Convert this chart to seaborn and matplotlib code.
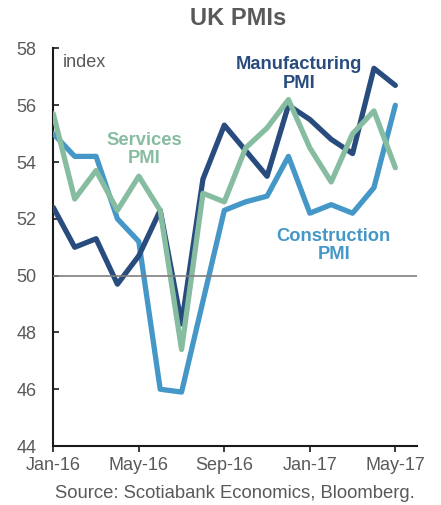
import matplotlib
matplotlib.use("Agg")
import matplotlib.pyplot as plt
import seaborn as sns
import pandas as pd

months = ["Jan-16", "Feb-16", "Mar-16", "Apr-16", "May-16", "Jun-16", "Jul-16", "Aug-16",
          "Sep-16", "Oct-16", "Nov-16", "Dec-16", "Jan-17", "Feb-17", "Mar-17", "Apr-17", "May-17"]
manufacturing = [52.4, 51.0, 51.3, 49.7, 50.7, 52.3, 48.3, 53.4, 55.3, 54.4, 53.5, 56.0,
                 55.5, 54.8, 54.3, 57.3, 56.7]
services = [55.7, 52.7, 53.7, 52.3, 53.5, 52.3, 47.4, 52.9, 52.6, 54.5, 55.2, 56.2,
            54.5, 53.3, 55.0, 55.8, 53.8]
construction = [55.0, 54.2, 54.2, 52.0, 51.2, 46.0, 45.9, 49.1, 52.3, 52.6, 52.8, 54.2,
                52.2, 52.5, 52.2, 53.1, 56.0]
tick_labels = ["Jan-16", "May-16", "Sep-16", "Jan-17", "May-17"]

series_names = ["Manufacturing", "Services", "Construction"]
colors = {"Manufacturing": "#284C7E", "Services": "#86BC9F", "Construction": "#4497C6"}

df = pd.DataFrame({
    "t": list(range(len(months))) * 3,
    "value": manufacturing + services + construction,
    "series": [s for s in series_names for _ in months],
})

sns.set_style("white")
plt.rcParams["font.family"] = ["Liberation Sans", "DejaVu Sans"]

fig = plt.figure(figsize=(4.41, 5.05), dpi=100)
ax = fig.add_axes([0.1209, 0.1168, 0.9449 - 0.1209, 0.904 - 0.1168])

sns.lineplot(data=df, x="t", y="value", hue="series",
             hue_order=["Construction", "Manufacturing", "Services"],
             palette=colors, linewidth=3.8, legend=False, ax=ax, zorder=3)
ax.axhline(50, color="#7f7f7f", lw=1.2, zorder=5)

ax.set_xlim(0, 17)
ax.set_ylim(44, 58)
ax.set_yticks([44, 46, 48, 50, 52, 54, 56, 58])
ax.set_xticks([months.index(m) for m in tick_labels])
ax.set_xticklabels(tick_labels)
ax.set_xlabel("")
ax.set_ylabel("")

for s in ["top", "right"]:
    ax.spines[s].set_visible(False)
for s in ["left", "bottom"]:
    ax.spines[s].set_color("#1a1a1a")
    ax.spines[s].set_linewidth(1.5)

ax.tick_params(axis="y", direction="in", length=4.3, width=1.2, color="#1a1a1a",
               labelsize=13, labelcolor="#595959", pad=12, left=True)
ax.tick_params(axis="x", direction="out", length=4, width=1.2, color="#1a1a1a",
               labelsize=13, labelcolor="#595959", pad=4, bottom=True)

ax.text(0.45, 57.52, "index", fontsize=13, color="#595959", ha="left", va="center")
ax.text(11.48, 57.1, "Manufacturing\nPMI", fontsize=13.2, fontweight="bold", color=colors["Manufacturing"],
        ha="center", va="center", linespacing=1.1)
ax.text(4.25, 54.45, "Services\nPMI", fontsize=13.2, fontweight="bold", color=colors["Services"],
        ha="center", va="center", linespacing=1.1)
ax.text(13.12, 51.06, "Construction\nPMI", fontsize=13.2, fontweight="bold", color=colors["Construction"],
        ha="center", va="center", linespacing=1.1)

fig.text(0.54, 0.963, "UK PMIs", fontsize=17, fontweight="bold", color="#595959", ha="center", va="center")
fig.text(0.533, 0.022, "Source: Scotiabank Economics, Bloomberg.", fontsize=13.3, color="#595959",
         ha="center", va="center")

fig.savefig("out.png", dpi=100)
